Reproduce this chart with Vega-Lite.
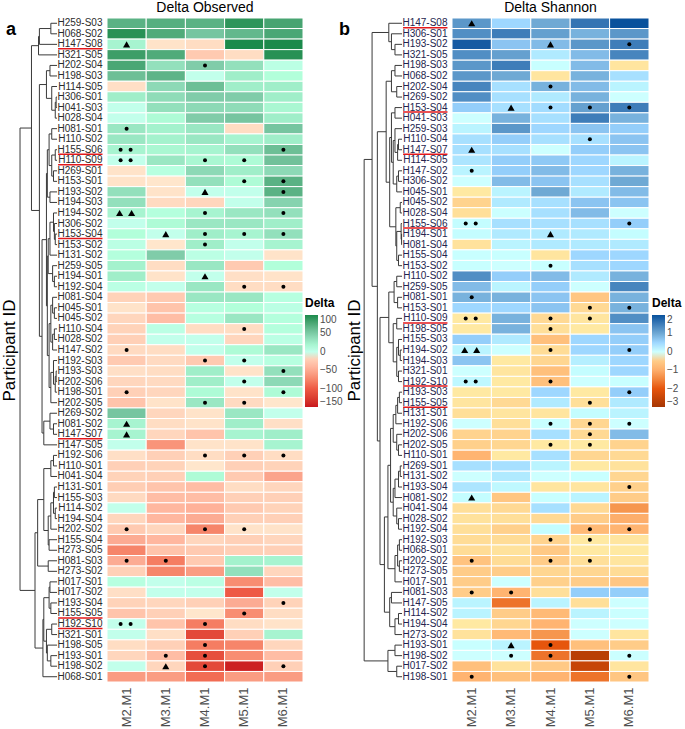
{
"$schema": "https://vega.github.io/schema/vega-lite/v6.json",
"background": "white",
"padding": {"left": 0, "top": 0, "right": 0, "bottom": 0},
"config": {
  "font": "Liberation Sans",
  "view": {"stroke": null},
  "title": {"fontSize": 14, "fontWeight": "normal", "color": "#000000", "offset": 3},
  "legend": {"titleFontSize": 12, "titleFontWeight": "bold", "titleColor": "#000000", "labelFontSize": 10, "labelColor": "#4d4d4d", "gradientLength": 92, "gradientThickness": 13, "titlePadding": 5, "labelOffset": 3, "labelOverlap": false}
},
"datasets": {
"cellsA": [
{"id":"H259-S03","r":1,"u":0,"M2":70,"M3":72,"M4":70,"M5":92,"M6":80},
{"id":"H068-S02","r":2,"u":0,"M2":95,"M3":75,"M4":55,"M5":65,"M6":78},
{"id":"H147-S08","r":3,"u":1,"M2":20,"M3":-5,"M4":-10,"M5":100,"M6":100},
{"id":"H321-S05","r":4,"u":0,"M2":85,"M3":75,"M4":-25,"M5":-10,"M6":95},
{"id":"H202-S04","r":5,"u":0,"M2":78,"M3":35,"M4":50,"M5":35,"M6":5},
{"id":"H198-S03","r":6,"u":0,"M2":60,"M3":68,"M4":0,"M5":25,"M6":12},
{"id":"H114-S05","r":7,"u":0,"M2":-8,"M3":40,"M4":60,"M5":25,"M6":25},
{"id":"H306-S01","r":8,"u":0,"M2":25,"M3":38,"M4":50,"M5":50,"M6":25},
{"id":"H041-S03","r":9,"u":0,"M2":0,"M3":35,"M4":40,"M5":38,"M6":18},
{"id":"H028-S04","r":10,"u":0,"M2":0,"M3":15,"M4":50,"M5":55,"M6":25},
{"id":"H081-S01","r":11,"u":0,"M2":30,"M3":22,"M4":30,"M5":-10,"M6":55},
{"id":"H110-S02","r":12,"u":0,"M2":30,"M3":22,"M4":30,"M5":20,"M6":25},
{"id":"H155-S06","r":13,"u":1,"M2":20,"M3":18,"M4":20,"M5":35,"M6":60},
{"id":"H110-S09","r":14,"u":1,"M2":0,"M3":30,"M4":18,"M5":15,"M6":58},
{"id":"H269-S01","r":15,"u":0,"M2":-5,"M3":8,"M4":40,"M5":25,"M6":40},
{"id":"H153-S01","r":16,"u":0,"M2":-5,"M3":-3,"M4":35,"M5":15,"M6":70},
{"id":"H193-S02","r":17,"u":0,"M2":35,"M3":-5,"M4":0,"M5":0,"M6":70},
{"id":"H194-S03","r":18,"u":0,"M2":35,"M3":-12,"M4":-15,"M5":0,"M6":45},
{"id":"H194-S02","r":19,"u":0,"M2":20,"M3":10,"M4":20,"M5":30,"M6":35},
{"id":"H306-S02","r":20,"u":0,"M2":0,"M3":15,"M4":30,"M5":30,"M6":25},
{"id":"H153-S04","r":21,"u":1,"M2":12,"M3":0,"M4":25,"M5":20,"M6":35},
{"id":"H153-S02","r":22,"u":0,"M2":5,"M3":-3,"M4":25,"M5":0,"M6":20},
{"id":"H131-S02","r":23,"u":0,"M2":10,"M3":50,"M4":5,"M5":0,"M6":-5},
{"id":"H259-S05","r":24,"u":0,"M2":22,"M3":-10,"M4":30,"M5":-25,"M6":12},
{"id":"H194-S01","r":25,"u":0,"M2":25,"M3":-5,"M4":0,"M5":-8,"M6":-5},
{"id":"H192-S04","r":26,"u":0,"M2":5,"M3":0,"M4":30,"M5":-10,"M6":-10},
{"id":"H081-S04","r":27,"u":0,"M2":-18,"M3":-25,"M4":30,"M5":30,"M6":8},
{"id":"H045-S01","r":28,"u":0,"M2":-5,"M3":-30,"M4":8,"M5":12,"M6":5},
{"id":"H045-S02","r":29,"u":0,"M2":-15,"M3":-35,"M4":8,"M5":30,"M6":10},
{"id":"H110-S04","r":30,"u":0,"M2":-18,"M3":5,"M4":-10,"M5":-10,"M6":10},
{"id":"H028-S02","r":31,"u":0,"M2":-20,"M3":0,"M4":0,"M5":-15,"M6":5},
{"id":"H147-S02","r":32,"u":0,"M2":-12,"M3":-10,"M4":0,"M5":15,"M6":30},
{"id":"H192-S03","r":33,"u":0,"M2":-25,"M3":-12,"M4":-25,"M5":0,"M6":8},
{"id":"H193-S03","r":34,"u":0,"M2":-8,"M3":-10,"M4":25,"M5":-5,"M6":35},
{"id":"H202-S06","r":35,"u":0,"M2":-15,"M3":-12,"M4":25,"M5":0,"M6":40},
{"id":"H198-S01","r":36,"u":0,"M2":-20,"M3":-15,"M4":15,"M5":-5,"M6":15},
{"id":"H202-S05","r":37,"u":0,"M2":-30,"M3":-5,"M4":30,"M5":-12,"M6":-3},
{"id":"H269-S02","r":38,"u":0,"M2":55,"M3":-15,"M4":-5,"M5":30,"M6":0},
{"id":"H081-S02","r":39,"u":0,"M2":20,"M3":-10,"M4":-5,"M5":25,"M6":-8},
{"id":"H147-S07","r":40,"u":1,"M2":20,"M3":-15,"M4":-30,"M5":20,"M6":25},
{"id":"H147-S05","r":41,"u":0,"M2":0,"M3":-65,"M4":-5,"M5":-5,"M6":20},
{"id":"H192-S06","r":42,"u":0,"M2":-8,"M3":-20,"M4":-10,"M5":-20,"M6":-10},
{"id":"H110-S01","r":43,"u":0,"M2":-20,"M3":-18,"M4":-3,"M5":-20,"M6":-18},
{"id":"H041-S04","r":44,"u":0,"M2":-18,"M3":-20,"M4":15,"M5":-25,"M6":-55},
{"id":"H131-S01","r":45,"u":0,"M2":-22,"M3":-30,"M4":-35,"M5":-10,"M6":-15},
{"id":"H155-S03","r":46,"u":0,"M2":-12,"M3":-35,"M4":-35,"M5":-20,"M6":-20},
{"id":"H114-S02","r":47,"u":0,"M2":0,"M3":-40,"M4":-45,"M5":-25,"M6":-18},
{"id":"H194-S04","r":48,"u":0,"M2":-15,"M3":-40,"M4":-50,"M5":-20,"M6":-20},
{"id":"H202-S02","r":49,"u":0,"M2":-25,"M3":-15,"M4":-75,"M5":-5,"M6":-5},
{"id":"H155-S04","r":50,"u":0,"M2":-50,"M3":-40,"M4":-15,"M5":-20,"M6":-15},
{"id":"H273-S05","r":51,"u":0,"M2":-75,"M3":-30,"M4":-25,"M5":-20,"M6":-20},
{"id":"H081-S03","r":52,"u":0,"M2":-50,"M3":-80,"M4":-25,"M5":22,"M6":20},
{"id":"H273-S02","r":53,"u":0,"M2":-20,"M3":-75,"M4":-60,"M5":35,"M6":-15},
{"id":"H017-S01","r":54,"u":0,"M2":8,"M3":0,"M4":5,"M5":-70,"M6":-35},
{"id":"H017-S02","r":55,"u":0,"M2":-8,"M3":0,"M4":0,"M5":-100,"M6":0},
{"id":"H193-S04","r":56,"u":0,"M2":-18,"M3":-15,"M4":-20,"M5":-50,"M6":-18},
{"id":"H155-S05","r":57,"u":1,"M2":-30,"M3":-20,"M4":-3,"M5":-70,"M6":-10},
{"id":"H192-S10","r":58,"u":1,"M2":0,"M3":-30,"M4":-80,"M5":-10,"M6":-5},
{"id":"H321-S01","r":59,"u":0,"M2":0,"M3":-8,"M4":-115,"M5":-20,"M6":20},
{"id":"H198-S05","r":60,"u":0,"M2":-10,"M3":-20,"M4":-80,"M5":-75,"M6":-15},
{"id":"H193-S01","r":61,"u":0,"M2":-15,"M3":-35,"M4":-110,"M5":-70,"M6":-35},
{"id":"H198-S02","r":62,"u":0,"M2":0,"M3":-15,"M4":-115,"M5":-145,"M6":-20},
{"id":"H068-S01","r":63,"u":0,"M2":-60,"M3":-60,"M4":-90,"M5":-60,"M6":-60}
],
"cellsB": [
{"id":"H147-S08","r":1,"u":1,"M2":1.2,"M3":0.5,"M4":1.0,"M5":1.6,"M6":2.0},
{"id":"H306-S01","r":2,"u":0,"M2":1.3,"M3":1.5,"M4":1.1,"M5":0.9,"M6":1.2},
{"id":"H193-S02","r":3,"u":0,"M2":1.9,"M3":0.7,"M4":0.8,"M5":1.2,"M6":1.5},
{"id":"H321-S05","r":4,"u":0,"M2":1.3,"M3":1.1,"M4":0.3,"M5":0.8,"M6":1.4},
{"id":"H198-S03","r":5,"u":0,"M2":1.2,"M3":1.5,"M4":0.05,"M5":0.8,"M6":-0.1},
{"id":"H068-S02","r":6,"u":0,"M2":1.2,"M3":1.0,"M4":-0.1,"M5":0.9,"M6":0.4},
{"id":"H202-S04","r":7,"u":0,"M2":1.4,"M3":0.4,"M4":0.9,"M5":0.8,"M6":0.2},
{"id":"H269-S02","r":8,"u":0,"M2":1.3,"M3":0.4,"M4":0.3,"M5":0.9,"M6":0},
{"id":"H153-S04","r":9,"u":1,"M2":0.6,"M3":0.4,"M4":0.45,"M5":1.1,"M6":1.5},
{"id":"H041-S03","r":10,"u":0,"M2":0,"M3":0.9,"M4":0.4,"M5":1.5,"M6":0.9},
{"id":"H259-S03","r":11,"u":0,"M2":0.2,"M3":1.2,"M4":0.5,"M5":0.7,"M6":0.6},
{"id":"H110-S04","r":12,"u":0,"M2":0.4,"M3":0.6,"M4":0.4,"M5":0.4,"M6":0.7},
{"id":"H147-S07","r":13,"u":1,"M2":0.4,"M3":0.4,"M4":0,"M5":0.6,"M6":0.7},
{"id":"H114-S05","r":14,"u":0,"M2":0.35,"M3":0.6,"M4":0.65,"M5":0.5,"M6":0.2},
{"id":"H147-S02","r":15,"u":0,"M2":0.2,"M3":0.6,"M4":0.8,"M5":0.5,"M6":0.9},
{"id":"H306-S02","r":16,"u":0,"M2":0,"M3":0.8,"M4":0.7,"M5":0.4,"M6":1.0},
{"id":"H045-S01","r":17,"u":0,"M2":-0.05,"M3":0.2,"M4":1.0,"M5":0.3,"M6":0.8},
{"id":"H045-S02","r":18,"u":0,"M2":-0.4,"M3":0.3,"M4":0.4,"M5":0.7,"M6":0.7},
{"id":"H028-S04","r":19,"u":0,"M2":-0.2,"M3":0.02,"M4":0.4,"M5":0.8,"M6":0},
{"id":"H155-S06","r":20,"u":1,"M2":0.1,"M3":0.4,"M4":0.4,"M5":0.4,"M6":0.6},
{"id":"H194-S01","r":21,"u":0,"M2":0.1,"M3":0.3,"M4":0.3,"M5":0.3,"M6":0.1},
{"id":"H081-S04","r":22,"u":0,"M2":-0.15,"M3":0.2,"M4":0.3,"M5":0.3,"M6":0.3},
{"id":"H155-S04","r":23,"u":0,"M2":0.05,"M3":0.05,"M4":-0.1,"M5":0.5,"M6":0.5},
{"id":"H153-S02","r":24,"u":0,"M2":0.05,"M3":0,"M4":0.05,"M5":0.4,"M6":0.5},
{"id":"H110-S02","r":25,"u":0,"M2":1.3,"M3":0.6,"M4":0.8,"M5":0.3,"M6":0.9},
{"id":"H259-S05","r":26,"u":0,"M2":0.8,"M3":0.2,"M4":0.6,"M5":0,"M6":1.4},
{"id":"H081-S01","r":27,"u":0,"M2":0.9,"M3":0.9,"M4":0.7,"M5":-0.6,"M6":0.9},
{"id":"H153-S01","r":28,"u":0,"M2":0.5,"M3":0.5,"M4":0.7,"M5":-0.3,"M6":0.9},
{"id":"H110-S09","r":29,"u":1,"M2":-0.05,"M3":0.9,"M4":-0.3,"M5":-0.1,"M6":1.3},
{"id":"H198-S05","r":30,"u":0,"M2":-0.05,"M3":0.9,"M4":-0.2,"M5":-0.05,"M6":0.7},
{"id":"H155-S03","r":31,"u":0,"M2":0.6,"M3":0.3,"M4":-0.7,"M5":0.5,"M6":0.6},
{"id":"H194-S02","r":32,"u":0,"M2":0.2,"M3":0,"M4":-0.25,"M5":0.5,"M6":0.6},
{"id":"H194-S03","r":33,"u":0,"M2":0.7,"M3":-0.05,"M4":-0.35,"M5":0.25,"M6":0.5},
{"id":"H321-S01","r":34,"u":0,"M2":0,"M3":-0.1,"M4":-0.7,"M5":0.1,"M6":0.5},
{"id":"H192-S10","r":35,"u":1,"M2":0.15,"M3":-0.05,"M4":-0.7,"M5":0,"M6":0.05},
{"id":"H193-S03","r":36,"u":0,"M2":-0.05,"M3":-0.05,"M4":0.5,"M5":-0.05,"M6":0.6},
{"id":"H155-S05","r":37,"u":1,"M2":-0.1,"M3":-0.3,"M4":0.3,"M5":-0.2,"M6":0.3},
{"id":"H131-S01","r":38,"u":0,"M2":-0.2,"M3":-0.1,"M4":-0.1,"M5":0.1,"M6":0.2},
{"id":"H192-S06","r":39,"u":0,"M2":0,"M3":-0.2,"M4":0.05,"M5":-0.35,"M6":0},
{"id":"H202-S06","r":40,"u":0,"M2":-0.4,"M3":-0.4,"M4":0.4,"M5":-0.3,"M6":0.8},
{"id":"H202-S05","r":41,"u":0,"M2":-0.45,"M3":-0.35,"M4":-0.05,"M5":-0.05,"M6":-0.4},
{"id":"H110-S01","r":42,"u":0,"M2":-0.9,"M3":-0.05,"M4":0.4,"M5":-0.35,"M6":-0.3},
{"id":"H269-S01","r":43,"u":0,"M2":0.4,"M3":0.4,"M4":0.2,"M5":-0.05,"M6":-0.15},
{"id":"H131-S02","r":44,"u":0,"M2":0,"M3":0.3,"M4":0,"M5":0.05,"M6":-0.35},
{"id":"H193-S04","r":45,"u":0,"M2":0.35,"M3":0.15,"M4":-0.1,"M5":-0.1,"M6":-0.45},
{"id":"H081-S02","r":46,"u":0,"M2":0.1,"M3":-0.6,"M4":0.05,"M5":0.2,"M6":-0.5},
{"id":"H041-S04","r":47,"u":0,"M2":-0.2,"M3":-0.3,"M4":0.4,"M5":-0.3,"M6":-1.3},
{"id":"H028-S02","r":48,"u":0,"M2":-0.15,"M3":-0.2,"M4":-0.3,"M5":-0.5,"M6":-1.0},
{"id":"H192-S04","r":49,"u":0,"M2":-0.2,"M3":-0.45,"M4":0.1,"M5":-0.8,"M6":-0.9},
{"id":"H192-S03","r":50,"u":0,"M2":-0.25,"M3":-0.25,"M4":-0.4,"M5":-0.05,"M6":-0.1},
{"id":"H068-S01","r":51,"u":0,"M2":-0.25,"M3":-0.15,"M4":-0.55,"M5":-0.05,"M6":-0.05},
{"id":"H202-S02","r":52,"u":0,"M2":-0.65,"M3":-0.25,"M4":-0.5,"M5":-0.2,"M6":-0.1},
{"id":"H273-S05","r":53,"u":0,"M2":-0.5,"M3":-0.5,"M4":-0.35,"M5":-0.35,"M6":-0.25},
{"id":"H017-S01","r":54,"u":0,"M2":-0.5,"M3":0,"M4":-0.45,"M5":-0.5,"M6":-0.6},
{"id":"H081-S03","r":55,"u":0,"M2":-0.5,"M3":-0.9,"M4":-0.2,"M5":0.6,"M6":0.6},
{"id":"H147-S05","r":56,"u":0,"M2":0.2,"M3":-1.7,"M4":0.2,"M5":-0.2,"M6":0},
{"id":"H114-S02","r":57,"u":0,"M2":0.2,"M3":-0.5,"M4":-0.8,"M5":0.2,"M6":0.03},
{"id":"H194-S04","r":58,"u":0,"M2":-0.05,"M3":-0.35,"M4":-0.9,"M5":0,"M6":0},
{"id":"H273-S02","r":59,"u":0,"M2":-0.15,"M3":-0.8,"M4":-1.3,"M5":0,"M6":-0.1},
{"id":"H193-S01","r":60,"u":0,"M2":0.05,"M3":0.2,"M4":-2.0,"M5":-0.7,"M6":-0.5},
{"id":"H198-S02","r":61,"u":0,"M2":0,"M3":0,"M4":-1.7,"M5":-2.7,"M6":0.02},
{"id":"H017-S02","r":62,"u":0,"M2":-0.7,"M3":-0.15,"M4":-0.55,"M5":-2.5,"M6":-0.1},
{"id":"H198-S01","r":63,"u":0,"M2":-0.9,"M3":-0.7,"M4":-0.9,"M5":-1.7,"M6":-0.6}
],
"marksA": [
{"r":3,"k":"M2","s":"t","o":"c"},{"r":5,"k":"M4","s":"d","o":"c"},{"r":11,"k":"M2","s":"d","o":"c"},
{"r":13,"k":"M2","s":"d","o":"l"},{"r":13,"k":"M2","s":"d","o":"r"},{"r":13,"k":"M6","s":"d","o":"c"},
{"r":14,"k":"M2","s":"d","o":"l"},{"r":14,"k":"M2","s":"d","o":"r"},{"r":14,"k":"M4","s":"d","o":"c"},{"r":14,"k":"M5","s":"d","o":"c"},
{"r":16,"k":"M5","s":"d","o":"c"},{"r":16,"k":"M6","s":"d","o":"c"},
{"r":17,"k":"M4","s":"t","o":"c"},{"r":17,"k":"M6","s":"d","o":"c"},
{"r":19,"k":"M2","s":"t","o":"l"},{"r":19,"k":"M2","s":"t","o":"r"},{"r":19,"k":"M4","s":"d","o":"c"},{"r":19,"k":"M6","s":"d","o":"c"},
{"r":21,"k":"M3","s":"t","o":"c"},{"r":21,"k":"M4","s":"d","o":"c"},{"r":21,"k":"M5","s":"d","o":"c"},{"r":21,"k":"M6","s":"d","o":"c"},
{"r":22,"k":"M4","s":"d","o":"c"},{"r":25,"k":"M4","s":"t","o":"c"},
{"r":26,"k":"M5","s":"d","o":"c"},{"r":26,"k":"M6","s":"d","o":"c"},
{"r":30,"k":"M5","s":"d","o":"c"},{"r":32,"k":"M2","s":"d","o":"c"},
{"r":33,"k":"M4","s":"d","o":"c"},{"r":33,"k":"M5","s":"d","o":"c"},
{"r":34,"k":"M6","s":"d","o":"c"},{"r":35,"k":"M5","s":"d","o":"c"},
{"r":36,"k":"M2","s":"d","o":"c"},{"r":36,"k":"M6","s":"d","o":"c"},
{"r":37,"k":"M4","s":"d","o":"c"},{"r":37,"k":"M5","s":"d","o":"c"},
{"r":39,"k":"M2","s":"t","o":"c"},{"r":40,"k":"M2","s":"t","o":"c"},
{"r":42,"k":"M4","s":"d","o":"c"},{"r":42,"k":"M5","s":"d","o":"c"},{"r":42,"k":"M6","s":"d","o":"c"},
{"r":49,"k":"M2","s":"d","o":"c"},{"r":49,"k":"M4","s":"d","o":"c"},{"r":49,"k":"M5","s":"d","o":"c"},
{"r":52,"k":"M2","s":"d","o":"c"},{"r":52,"k":"M3","s":"d","o":"c"},
{"r":56,"k":"M6","s":"d","o":"c"},{"r":57,"k":"M5","s":"d","o":"c"},
{"r":58,"k":"M2","s":"d","o":"l"},{"r":58,"k":"M2","s":"d","o":"r"},{"r":58,"k":"M4","s":"d","o":"c"},
{"r":60,"k":"M4","s":"d","o":"c"},
{"r":61,"k":"M3","s":"d","o":"c"},{"r":61,"k":"M4","s":"d","o":"c"},
{"r":62,"k":"M3","s":"t","o":"c"},{"r":62,"k":"M4","s":"d","o":"c"},{"r":62,"k":"M6","s":"d","o":"c"}
],
"marksB": [
{"r":1,"k":"M2","s":"t","o":"c"},
{"r":3,"k":"M4","s":"t","o":"c"},{"r":3,"k":"M6","s":"d","o":"c"},
{"r":7,"k":"M4","s":"d","o":"c"},
{"r":9,"k":"M3","s":"t","o":"c"},{"r":9,"k":"M4","s":"d","o":"c"},{"r":9,"k":"M5","s":"d","o":"c"},{"r":9,"k":"M6","s":"d","o":"c"},
{"r":12,"k":"M5","s":"d","o":"c"},{"r":13,"k":"M2","s":"t","o":"c"},{"r":15,"k":"M2","s":"d","o":"c"},
{"r":20,"k":"M2","s":"d","o":"l"},{"r":20,"k":"M2","s":"d","o":"r"},{"r":20,"k":"M6","s":"d","o":"c"},
{"r":21,"k":"M4","s":"t","o":"c"},{"r":24,"k":"M4","s":"d","o":"c"},{"r":27,"k":"M2","s":"d","o":"c"},
{"r":28,"k":"M5","s":"d","o":"c"},{"r":28,"k":"M6","s":"d","o":"c"},
{"r":29,"k":"M2","s":"d","o":"l"},{"r":29,"k":"M2","s":"d","o":"r"},{"r":29,"k":"M4","s":"d","o":"c"},{"r":29,"k":"M5","s":"d","o":"c"},
{"r":30,"k":"M4","s":"d","o":"c"},
{"r":32,"k":"M2","s":"t","o":"l"},{"r":32,"k":"M2","s":"t","o":"r"},{"r":32,"k":"M4","s":"d","o":"c"},{"r":32,"k":"M6","s":"d","o":"c"},
{"r":35,"k":"M2","s":"d","o":"l"},{"r":35,"k":"M2","s":"d","o":"r"},{"r":35,"k":"M4","s":"d","o":"c"},
{"r":36,"k":"M6","s":"d","o":"c"},{"r":37,"k":"M5","s":"d","o":"c"},
{"r":39,"k":"M4","s":"d","o":"c"},{"r":39,"k":"M5","s":"d","o":"c"},{"r":39,"k":"M6","s":"d","o":"c"},
{"r":40,"k":"M5","s":"d","o":"c"},
{"r":41,"k":"M4","s":"d","o":"c"},{"r":41,"k":"M5","s":"d","o":"c"},
{"r":45,"k":"M6","s":"d","o":"c"},{"r":46,"k":"M2","s":"t","o":"c"},
{"r":49,"k":"M5","s":"d","o":"c"},{"r":49,"k":"M6","s":"d","o":"c"},
{"r":50,"k":"M4","s":"d","o":"c"},{"r":50,"k":"M5","s":"d","o":"c"},
{"r":52,"k":"M2","s":"d","o":"c"},{"r":52,"k":"M4","s":"d","o":"c"},{"r":52,"k":"M5","s":"d","o":"c"},
{"r":55,"k":"M2","s":"d","o":"c"},{"r":55,"k":"M3","s":"d","o":"c"},
{"r":60,"k":"M3","s":"t","o":"c"},{"r":60,"k":"M4","s":"d","o":"c"},
{"r":61,"k":"M3","s":"d","o":"c"},{"r":61,"k":"M4","s":"d","o":"c"},{"r":61,"k":"M6","s":"d","o":"c"},
{"r":63,"k":"M2","s":"d","o":"c"},{"r":63,"k":"M6","s":"d","o":"c"}
],
"treeA": [
{"y":1,"h":0,"p":7},{"y":2,"h":0,"p":7},{"y":3,"h":0,"p":20},{"y":4,"h":0,"p":21},{"y":5,"h":0,"p":8},{"y":6,"h":0,"p":8},{"y":7,"h":0,"p":6},{"y":8,"h":0,"p":1},{"y":9,"h":0,"p":1},{"y":10,"h":0,"p":2},
{"y":11,"h":0,"p":6},{"y":12,"h":0,"p":6},{"y":13,"h":0,"p":2},{"y":14,"h":0,"p":2},{"y":15,"h":0,"p":4},{"y":16,"h":0,"p":4},{"y":17,"h":0,"p":8},{"y":18,"h":0,"p":8},{"y":19,"h":0,"p":4},{"y":20,"h":0,"p":3},
{"y":21,"h":0,"p":2},{"y":22,"h":0,"p":2},{"y":23,"h":0,"p":8},{"y":24,"h":0,"p":5},{"y":25,"h":0,"p":3},{"y":26,"h":0,"p":3},{"y":27,"h":0,"p":5},{"y":28,"h":0,"p":3},{"y":29,"h":0,"p":3},{"y":30,"h":0,"p":3},
{"y":31,"h":0,"p":3},{"y":32,"h":0,"p":5},{"y":33,"h":0,"p":4},{"y":34,"h":0,"p":1},{"y":35,"h":0,"p":1},{"y":36,"h":0,"p":2},{"y":37,"h":0,"p":7},{"y":38,"h":0,"p":8},{"y":39,"h":0,"p":4},{"y":40,"h":0,"p":4},
{"y":41,"h":0,"p":15},{"y":42,"h":0,"p":4},{"y":43,"h":0,"p":4},{"y":44,"h":0,"p":7},{"y":45,"h":0,"p":3},{"y":46,"h":0,"p":3},{"y":47,"h":0,"p":2},{"y":48,"h":0,"p":2},{"y":49,"h":0,"p":7},{"y":50,"h":0,"p":9},
{"y":51,"h":0,"p":9},{"y":52,"h":0,"p":10},{"y":53,"h":0,"p":10},{"y":54,"h":0,"p":8},{"y":55,"h":0,"p":8},{"y":56,"h":0,"p":7},{"y":57,"h":0,"p":7},{"y":58,"h":0,"p":6},{"y":59,"h":0,"p":6},{"y":60,"h":0,"p":11},
{"y":61,"h":0,"p":7},{"y":62,"h":0,"p":7},{"y":63,"h":0,"p":16},
{"y":1.5,"h":7,"p":20,"a":1,"b":2},
{"y":2.25,"h":20,"p":21,"a":1.5,"b":3},
{"y":3.125,"h":21,"p":29,"a":2.25,"b":4},
{"y":5.5,"h":8,"p":12,"a":5,"b":6},
{"y":8.5,"h":1,"p":2,"a":8,"b":9},
{"y":9.25,"h":2,"p":6,"a":8.5,"b":10},
{"y":8.125,"h":6,"p":12,"a":7,"b":9.25},
{"y":6.8125,"h":12,"p":20,"a":5.5,"b":8.125},
{"y":11.5,"h":6,"p":9,"a":11,"b":12},
{"y":13.5,"h":2,"p":6,"a":13,"b":14},
{"y":15.5,"h":4,"p":6,"a":15,"b":16},
{"y":14.5,"h":6,"p":9,"a":13.5,"b":15.5},
{"y":13,"h":9,"p":11,"a":11.5,"b":14.5},
{"y":17.5,"h":8,"p":11,"a":17,"b":18},
{"y":15.25,"h":11,"p":12,"a":13,"b":17.5},
{"y":21.5,"h":2,"p":3,"a":21,"b":22},
{"y":20.75,"h":3,"p":4,"a":20,"b":21.5},
{"y":19.875,"h":4,"p":8,"a":19,"b":20.75},
{"y":21.44,"h":8,"p":10,"a":19.875,"b":23},
{"y":25.5,"h":3,"p":5,"a":25,"b":26},
{"y":24.75,"h":5,"p":10,"a":24,"b":25.5},
{"y":23.09,"h":10,"p":11,"a":21.44,"b":24.75},
{"y":28.5,"h":3,"p":5,"a":28,"b":29},
{"y":27.75,"h":5,"p":7,"a":27,"b":28.5},
{"y":30.5,"h":3,"p":5,"a":30,"b":31},
{"y":31.25,"h":5,"p":7,"a":30.5,"b":32},
{"y":29.5,"h":7,"p":9,"a":27.75,"b":31.25},
{"y":34.5,"h":1,"p":2,"a":34,"b":35},
{"y":35.25,"h":2,"p":4,"a":34.5,"b":36},
{"y":34.125,"h":4,"p":7,"a":33,"b":35.25},
{"y":35.56,"h":7,"p":9,"a":34.125,"b":37},
{"y":32.53,"h":9,"p":11,"a":29.5,"b":35.56},
{"y":27.81,"h":11,"p":12,"a":23.09,"b":32.53},
{"y":21.53,"h":12,"p":17,"a":15.25,"b":27.81},
{"y":39.5,"h":4,"p":8,"a":39,"b":40},
{"y":38.75,"h":8,"p":15,"a":38,"b":39.5},
{"y":39.875,"h":15,"p":17,"a":38.75,"b":41},
{"y":30.7,"h":17,"p":20,"a":21.53,"b":39.875},
{"y":18.76,"h":20,"p":29,"a":6.8125,"b":30.7},
{"y":10.94,"h":29,"p":42,"a":3.125,"b":18.76},
{"y":42.5,"h":4,"p":7,"a":42,"b":43},
{"y":43.25,"h":7,"p":15,"a":42.5,"b":44},
{"y":45.5,"h":3,"p":4,"a":45,"b":46},
{"y":47.5,"h":2,"p":4,"a":47,"b":48},
{"y":46.5,"h":4,"p":7,"a":45.5,"b":47.5},
{"y":47.75,"h":7,"p":10,"a":46.5,"b":49},
{"y":50.5,"h":9,"p":10,"a":50,"b":51},
{"y":49.125,"h":10,"p":15,"a":47.75,"b":50.5},
{"y":46.19,"h":15,"p":22,"a":43.25,"b":49.125},
{"y":52.5,"h":10,"p":22,"a":52,"b":53},
{"y":49.34,"h":22,"p":25,"a":46.19,"b":52.5},
{"y":54.5,"h":8,"p":9,"a":54,"b":55},
{"y":56.5,"h":7,"p":9,"a":56,"b":57},
{"y":55.5,"h":9,"p":15,"a":54.5,"b":56.5},
{"y":58.5,"h":6,"p":12,"a":58,"b":59},
{"y":61.5,"h":7,"p":11,"a":61,"b":62},
{"y":60.75,"h":11,"p":12,"a":60,"b":61.5},
{"y":59.625,"h":12,"p":15,"a":58.5,"b":60.75},
{"y":57.56,"h":15,"p":16,"a":55.5,"b":59.625},
{"y":60.28,"h":16,"p":25,"a":57.56,"b":63},
{"y":54.81,"h":25,"p":42,"a":49.34,"b":60.28},
{"y":32.88,"h":42,"p":42,"a":10.94,"b":54.81}
],
"treeB": [
{"y":1,"h":0,"p":15},{"y":2,"h":0,"p":12},{"y":3,"h":0,"p":8},{"y":4,"h":0,"p":8},{"y":5,"h":0,"p":8},{"y":6,"h":0,"p":8},{"y":7,"h":0,"p":6},{"y":8,"h":0,"p":6},{"y":9,"h":0,"p":8},{"y":10,"h":0,"p":8},
{"y":11,"h":0,"p":8},{"y":12,"h":0,"p":4},{"y":13,"h":0,"p":4},{"y":14,"h":0,"p":5},{"y":15,"h":0,"p":4},{"y":16,"h":0,"p":4},{"y":17,"h":0,"p":6},{"y":18,"h":0,"p":2},{"y":19,"h":0,"p":2},{"y":20,"h":0,"p":1},
{"y":21,"h":0,"p":0.5},{"y":22,"h":0,"p":0.5},{"y":23,"h":0,"p":4},{"y":24,"h":0,"p":4},{"y":25,"h":0,"p":6},{"y":26,"h":0,"p":6},{"y":27,"h":0,"p":5},{"y":28,"h":0,"p":5},{"y":29,"h":0,"p":6},{"y":30,"h":0,"p":6},
{"y":31,"h":0,"p":4},{"y":32,"h":0,"p":2},{"y":33,"h":0,"p":2},{"y":34,"h":0,"p":4},{"y":35,"h":0,"p":4},{"y":36,"h":0,"p":3},{"y":37,"h":0,"p":3},{"y":38,"h":0,"p":5},{"y":39,"h":0,"p":7},{"y":40,"h":0,"p":6},
{"y":41,"h":0,"p":4},{"y":42,"h":0,"p":4},{"y":43,"h":0,"p":2},{"y":44,"h":0,"p":2},{"y":45,"h":0,"p":4},{"y":46,"h":0,"p":8},{"y":47,"h":0,"p":6},{"y":48,"h":0,"p":4},{"y":49,"h":0,"p":4},{"y":50,"h":0,"p":3},
{"y":51,"h":0,"p":3},{"y":52,"h":0,"p":3},{"y":53,"h":0,"p":3},{"y":54,"h":0,"p":8},{"y":55,"h":0,"p":12},{"y":56,"h":0,"p":12},{"y":57,"h":0,"p":4},{"y":58,"h":0,"p":4},{"y":59,"h":0,"p":8},{"y":60,"h":0,"p":8},
{"y":61,"h":0,"p":8},{"y":62,"h":0,"p":6},{"y":63,"h":0,"p":6},
{"y":3.5,"h":8,"p":12,"a":3,"b":4},
{"y":2.75,"h":12,"p":15,"a":2,"b":3.5},
{"y":1.875,"h":15,"p":34,"a":1,"b":2.75},
{"y":5.5,"h":8,"p":12,"a":5,"b":6},
{"y":7.5,"h":6,"p":12,"a":7,"b":8},
{"y":6.5,"h":12,"p":18,"a":5.5,"b":7.5},
{"y":9.5,"h":8,"p":12,"a":9,"b":10},
{"y":12.5,"h":4,"p":5,"a":12,"b":13},
{"y":13.25,"h":5,"p":8,"a":12.5,"b":14},
{"y":12.125,"h":8,"p":10,"a":11,"b":13.25},
{"y":15.5,"h":4,"p":6,"a":15,"b":16},
{"y":16.25,"h":6,"p":10,"a":15.5,"b":17},
{"y":14.19,"h":10,"p":12,"a":12.125,"b":16.25},
{"y":11.84,"h":12,"p":14,"a":9.5,"b":14.19},
{"y":18.5,"h":2,"p":7,"a":18,"b":19},
{"y":21.5,"h":0.5,"p":1,"a":21,"b":22},
{"y":20.75,"h":1,"p":6,"a":20,"b":21.5},
{"y":23.5,"h":4,"p":6,"a":23,"b":24},
{"y":22.125,"h":6,"p":7,"a":20.75,"b":23.5},
{"y":20.31,"h":7,"p":14,"a":18.5,"b":22.125},
{"y":16.08,"h":14,"p":18,"a":11.84,"b":20.31},
{"y":11.29,"h":18,"p":28,"a":6.5,"b":16.08},
{"y":25.5,"h":6,"p":9,"a":25,"b":26},
{"y":27.5,"h":5,"p":9,"a":27,"b":28},
{"y":26.5,"h":9,"p":15,"a":25.5,"b":27.5},
{"y":29.5,"h":6,"p":10,"a":29,"b":30},
{"y":32.5,"h":2,"p":4,"a":32,"b":33},
{"y":31.75,"h":4,"p":6,"a":31,"b":32.5},
{"y":34.5,"h":4,"p":6,"a":34,"b":35},
{"y":33.125,"h":6,"p":10,"a":31.75,"b":34.5},
{"y":31.31,"h":10,"p":15,"a":29.5,"b":33.125},
{"y":28.91,"h":15,"p":25,"a":26.5,"b":31.31},
{"y":36.5,"h":3,"p":5,"a":36,"b":37},
{"y":37.25,"h":5,"p":7,"a":36.5,"b":38},
{"y":38.125,"h":7,"p":10,"a":37.25,"b":39},
{"y":41.5,"h":4,"p":6,"a":41,"b":42},
{"y":40.75,"h":6,"p":10,"a":40,"b":41.5},
{"y":39.44,"h":10,"p":13,"a":38.125,"b":40.75},
{"y":43.5,"h":2,"p":4,"a":43,"b":44},
{"y":44.25,"h":4,"p":8,"a":43.5,"b":45},
{"y":45.125,"h":8,"p":10,"a":44.25,"b":46},
{"y":48.5,"h":4,"p":6,"a":48,"b":49},
{"y":47.75,"h":6,"p":10,"a":47,"b":48.5},
{"y":46.44,"h":10,"p":13,"a":45.125,"b":47.75},
{"y":42.94,"h":13,"p":16,"a":39.44,"b":46.44},
{"y":50.5,"h":3,"p":5,"a":50,"b":51},
{"y":52.5,"h":3,"p":5,"a":52,"b":53},
{"y":51.5,"h":5,"p":8,"a":50.5,"b":52.5},
{"y":52.75,"h":8,"p":16,"a":51.5,"b":54},
{"y":47.84,"h":16,"p":20,"a":42.94,"b":52.75},
{"y":55.5,"h":12,"p":14,"a":55,"b":56},
{"y":57.5,"h":4,"p":8,"a":57,"b":58},
{"y":58.25,"h":8,"p":14,"a":57.5,"b":59},
{"y":56.875,"h":14,"p":20,"a":55.5,"b":58.25},
{"y":52.36,"h":20,"p":25,"a":47.84,"b":56.875},
{"y":40.63,"h":25,"p":28,"a":28.91,"b":52.36},
{"y":25.96,"h":28,"p":34,"a":11.29,"b":40.63},
{"y":13.92,"h":34,"p":43,"a":1.875,"b":25.96},
{"y":60.5,"h":8,"p":16,"a":60,"b":61},
{"y":62.5,"h":6,"p":16,"a":62,"b":63},
{"y":61.5,"h":16,"p":43,"a":60.5,"b":62.5},
{"y":37.71,"h":43,"p":43,"a":13.92,"b":61.5}
]
},
"resolve": {"scale": {"color": "independent"}},
"spacing": -4,
"hconcat": [
{
  "spacing": 2,
  "hconcat": [
  {
    "width": 85, "height": 664,
    "title": {"text": "a", "anchor": "start", "frame": "bounds", "fontSize": 18, "fontWeight": "bold", "dy": 24, "dx": 6},
    "layer": [
      {"data": {"name": "treeA"}, "mark": {"type": "rule", "color": "#3a3a3a", "strokeWidth": 1},
       "encoding": {
         "x": {"field": "h", "type": "quantitative", "scale": {"domain": [-52.2, 44.3], "reverse": true, "nice": false, "zero": false}, "axis": null},
         "x2": {"field": "p"},
         "y": {"field": "y", "type": "quantitative", "scale": {"domain": [0.5, 63.5], "reverse": true, "nice": false, "zero": false}, "title": "Participant ID",
               "axis": {"labels": false, "ticks": false, "domain": false, "grid": false, "titleFontSize": 17, "titleFontWeight": "normal", "titleColor": "#000000", "titlePadding": 0}}}},
      {"data": {"name": "treeA"}, "transform": [{"filter": "isValid(datum.a)"}], "mark": {"type": "rule", "color": "#3a3a3a", "strokeWidth": 1},
       "encoding": {
         "x": {"field": "h", "type": "quantitative", "axis": null},
         "y": {"field": "a", "type": "quantitative", "title": "Participant ID"},
         "y2": {"field": "b"}}},
      {"data": {"name": "cellsA"}, "mark": {"type": "text", "align": "right", "baseline": "middle", "font": "Liberation Sans", "fontSize": 10, "color": "#2b2b2b"},
       "encoding": {
         "x": {"datum": -51.6, "type": "quantitative", "axis": null},
         "y": {"field": "r", "type": "quantitative", "title": "Participant ID"},
         "text": {"field": "id"}}},
      {"data": {"name": "cellsA"}, "transform": [{"filter": "datum.u == 1"}], "mark": {"type": "rule", "color": "#e3191c", "strokeWidth": 1.5, "yOffset": 4.5},
       "encoding": {
         "x": {"datum": -1.2, "type": "quantitative", "axis": null},
         "x2": {"datum": -51.6},
         "y": {"field": "r", "type": "quantitative", "title": "Participant ID"}}}
    ]
  },
  {
    "width": 196, "height": 664,
    "title": {"text": "Delta Observed"},
    "layer": [
      {"data": {"name": "cellsA"}, "transform": [{"fold": ["M2", "M3", "M4", "M5", "M6"], "as": ["k", "v"]}],
       "mark": {"type": "rect", "stroke": "white", "strokeWidth": 1},
       "encoding": {
         "x": {"field": "k", "type": "nominal", "scale": {"domain": ["M2", "M3", "M4", "M5", "M6"], "paddingInner": 0, "paddingOuter": 0},
               "axis": {"title": null, "labelExpr": "datum.value + '.M1'", "labelAngle": 270, "labelFontSize": 13, "labelColor": "#4d4d4d", "ticks": false, "domain": false, "labelPadding": 5}},
         "y": {"field": "r", "type": "ordinal", "axis": null, "scale": {"paddingInner": 0, "paddingOuter": 0}},
         "color": {"field": "v", "type": "quantitative",
                   "scale": {"type": "linear", "domain": [-150, -100, -50, 0, 50, 100], "range": ["#c8161d", "#ee5a45", "#fcab93", "#ffffff", "#80cca9", "#1b8a4b"]},
                   "legend": {"title": "Delta", "orient": "none", "legendX": 287, "legendY": 280, "values": [100, 50, 0, -50, -100, -150], "direction": "vertical"}}}},
      {"data": {"name": "marksA"}, "transform": [{"filter": "datum.s == 'd' && datum.o == 'c'"}],
       "mark": {"type": "circle", "color": "#000000", "size": 16, "opacity": 1},
       "encoding": {"x": {"field": "k", "type": "nominal"}, "y": {"field": "r", "type": "ordinal"}}},
      {"data": {"name": "marksA"}, "transform": [{"filter": "datum.s == 'd' && datum.o == 'l'"}],
       "mark": {"type": "circle", "color": "#000000", "size": 16, "opacity": 1, "xOffset": -6},
       "encoding": {"x": {"field": "k", "type": "nominal"}, "y": {"field": "r", "type": "ordinal"}}},
      {"data": {"name": "marksA"}, "transform": [{"filter": "datum.s == 'd' && datum.o == 'r'"}],
       "mark": {"type": "circle", "color": "#000000", "size": 16, "opacity": 1, "xOffset": 4},
       "encoding": {"x": {"field": "k", "type": "nominal"}, "y": {"field": "r", "type": "ordinal"}}},
      {"data": {"name": "marksA"}, "transform": [{"filter": "datum.s == 't' && datum.o == 'c'"}],
       "mark": {"type": "point", "shape": "triangle-up", "filled": true, "color": "#000000", "size": 50, "opacity": 1},
       "encoding": {"x": {"field": "k", "type": "nominal"}, "y": {"field": "r", "type": "ordinal"}}},
      {"data": {"name": "marksA"}, "transform": [{"filter": "datum.s == 't' && datum.o == 'l'"}],
       "mark": {"type": "point", "shape": "triangle-up", "filled": true, "color": "#000000", "size": 50, "opacity": 1, "xOffset": -7},
       "encoding": {"x": {"field": "k", "type": "nominal"}, "y": {"field": "r", "type": "ordinal"}}},
      {"data": {"name": "marksA"}, "transform": [{"filter": "datum.s == 't' && datum.o == 'r'"}],
       "mark": {"type": "point", "shape": "triangle-up", "filled": true, "color": "#000000", "size": 50, "opacity": 1, "xOffset": 5},
       "encoding": {"x": {"field": "k", "type": "nominal"}, "y": {"field": "r", "type": "ordinal"}}}
    ]
  }
  ]
},
{
  "spacing": 2,
  "hconcat": [
  {
    "width": 85, "height": 664,
    "title": {"text": "b", "anchor": "start", "frame": "bounds", "fontSize": 18, "fontWeight": "bold", "dy": 24, "dx": -6},
    "layer": [
      {"data": {"name": "treeB"}, "mark": {"type": "rule", "color": "#3a3a3a", "strokeWidth": 1},
       "encoding": {
         "x": {"field": "h", "type": "quantitative", "scale": {"domain": [-52.2, 44.3], "reverse": true, "nice": false, "zero": false}, "axis": null},
         "x2": {"field": "p"},
         "y": {"field": "y", "type": "quantitative", "scale": {"domain": [0.5, 63.5], "reverse": true, "nice": false, "zero": false}, "title": "Participant ID",
               "axis": {"labels": false, "ticks": false, "domain": false, "grid": false, "titleFontSize": 17, "titleFontWeight": "normal", "titleColor": "#000000", "titlePadding": 0}}}},
      {"data": {"name": "treeB"}, "transform": [{"filter": "isValid(datum.a)"}], "mark": {"type": "rule", "color": "#3a3a3a", "strokeWidth": 1},
       "encoding": {
         "x": {"field": "h", "type": "quantitative", "axis": null},
         "y": {"field": "a", "type": "quantitative", "title": "Participant ID"},
         "y2": {"field": "b"}}},
      {"data": {"name": "cellsB"}, "mark": {"type": "text", "align": "right", "baseline": "middle", "font": "Liberation Sans", "fontSize": 10, "color": "#24244e"},
       "encoding": {
         "x": {"datum": -51.6, "type": "quantitative", "axis": null},
         "y": {"field": "r", "type": "quantitative", "title": "Participant ID"},
         "text": {"field": "id"}}},
      {"data": {"name": "cellsB"}, "transform": [{"filter": "datum.u == 1"}], "mark": {"type": "rule", "color": "#e3191c", "strokeWidth": 1.5, "yOffset": 4.5},
       "encoding": {
         "x": {"datum": -1.2, "type": "quantitative", "axis": null},
         "x2": {"datum": -51.6},
         "y": {"field": "r", "type": "quantitative", "title": "Participant ID"}}}
    ]
  },
  {
    "width": 197, "height": 664,
    "title": {"text": "Delta Shannon"},
    "layer": [
      {"data": {"name": "cellsB"}, "transform": [{"fold": ["M2", "M3", "M4", "M5", "M6"], "as": ["k", "v"]}],
       "mark": {"type": "rect", "stroke": "white", "strokeWidth": 1},
       "encoding": {
         "x": {"field": "k", "type": "nominal", "scale": {"domain": ["M2", "M3", "M4", "M5", "M6"], "paddingInner": 0, "paddingOuter": 0},
               "axis": {"title": null, "labelExpr": "datum.value + '.M1'", "labelAngle": 270, "labelFontSize": 13, "labelColor": "#4d4d4d", "ticks": false, "domain": false, "labelPadding": 5}},
         "y": {"field": "r", "type": "ordinal", "axis": null, "scale": {"paddingInner": 0, "paddingOuter": 0}},
         "color": {"field": "v", "type": "quantitative",
                   "scale": {"type": "linear", "domain": [-3, -2, -1, 0, 1, 2], "range": ["#a63603", "#e6550d", "#fdae6b", "#ffffff", "#6fa9d4", "#08519c"]},
                   "legend": {"title": "Delta", "orient": "none", "legendX": 289, "legendY": 280, "values": [2, 1, 0, -1, -2, -3], "direction": "vertical"}}}},
      {"data": {"name": "marksB"}, "transform": [{"filter": "datum.s == 'd' && datum.o == 'c'"}],
       "mark": {"type": "circle", "color": "#000000", "size": 16, "opacity": 1},
       "encoding": {"x": {"field": "k", "type": "nominal"}, "y": {"field": "r", "type": "ordinal"}}},
      {"data": {"name": "marksB"}, "transform": [{"filter": "datum.s == 'd' && datum.o == 'l'"}],
       "mark": {"type": "circle", "color": "#000000", "size": 16, "opacity": 1, "xOffset": -6},
       "encoding": {"x": {"field": "k", "type": "nominal"}, "y": {"field": "r", "type": "ordinal"}}},
      {"data": {"name": "marksB"}, "transform": [{"filter": "datum.s == 'd' && datum.o == 'r'"}],
       "mark": {"type": "circle", "color": "#000000", "size": 16, "opacity": 1, "xOffset": 4},
       "encoding": {"x": {"field": "k", "type": "nominal"}, "y": {"field": "r", "type": "ordinal"}}},
      {"data": {"name": "marksB"}, "transform": [{"filter": "datum.s == 't' && datum.o == 'c'"}],
       "mark": {"type": "point", "shape": "triangle-up", "filled": true, "color": "#000000", "size": 50, "opacity": 1},
       "encoding": {"x": {"field": "k", "type": "nominal"}, "y": {"field": "r", "type": "ordinal"}}},
      {"data": {"name": "marksB"}, "transform": [{"filter": "datum.s == 't' && datum.o == 'l'"}],
       "mark": {"type": "point", "shape": "triangle-up", "filled": true, "color": "#000000", "size": 50, "opacity": 1, "xOffset": -7},
       "encoding": {"x": {"field": "k", "type": "nominal"}, "y": {"field": "r", "type": "ordinal"}}},
      {"data": {"name": "marksB"}, "transform": [{"filter": "datum.s == 't' && datum.o == 'r'"}],
       "mark": {"type": "point", "shape": "triangle-up", "filled": true, "color": "#000000", "size": 50, "opacity": 1, "xOffset": 5},
       "encoding": {"x": {"field": "k", "type": "nominal"}, "y": {"field": "r", "type": "ordinal"}}}
    ]
  }
  ]
}
]
}
